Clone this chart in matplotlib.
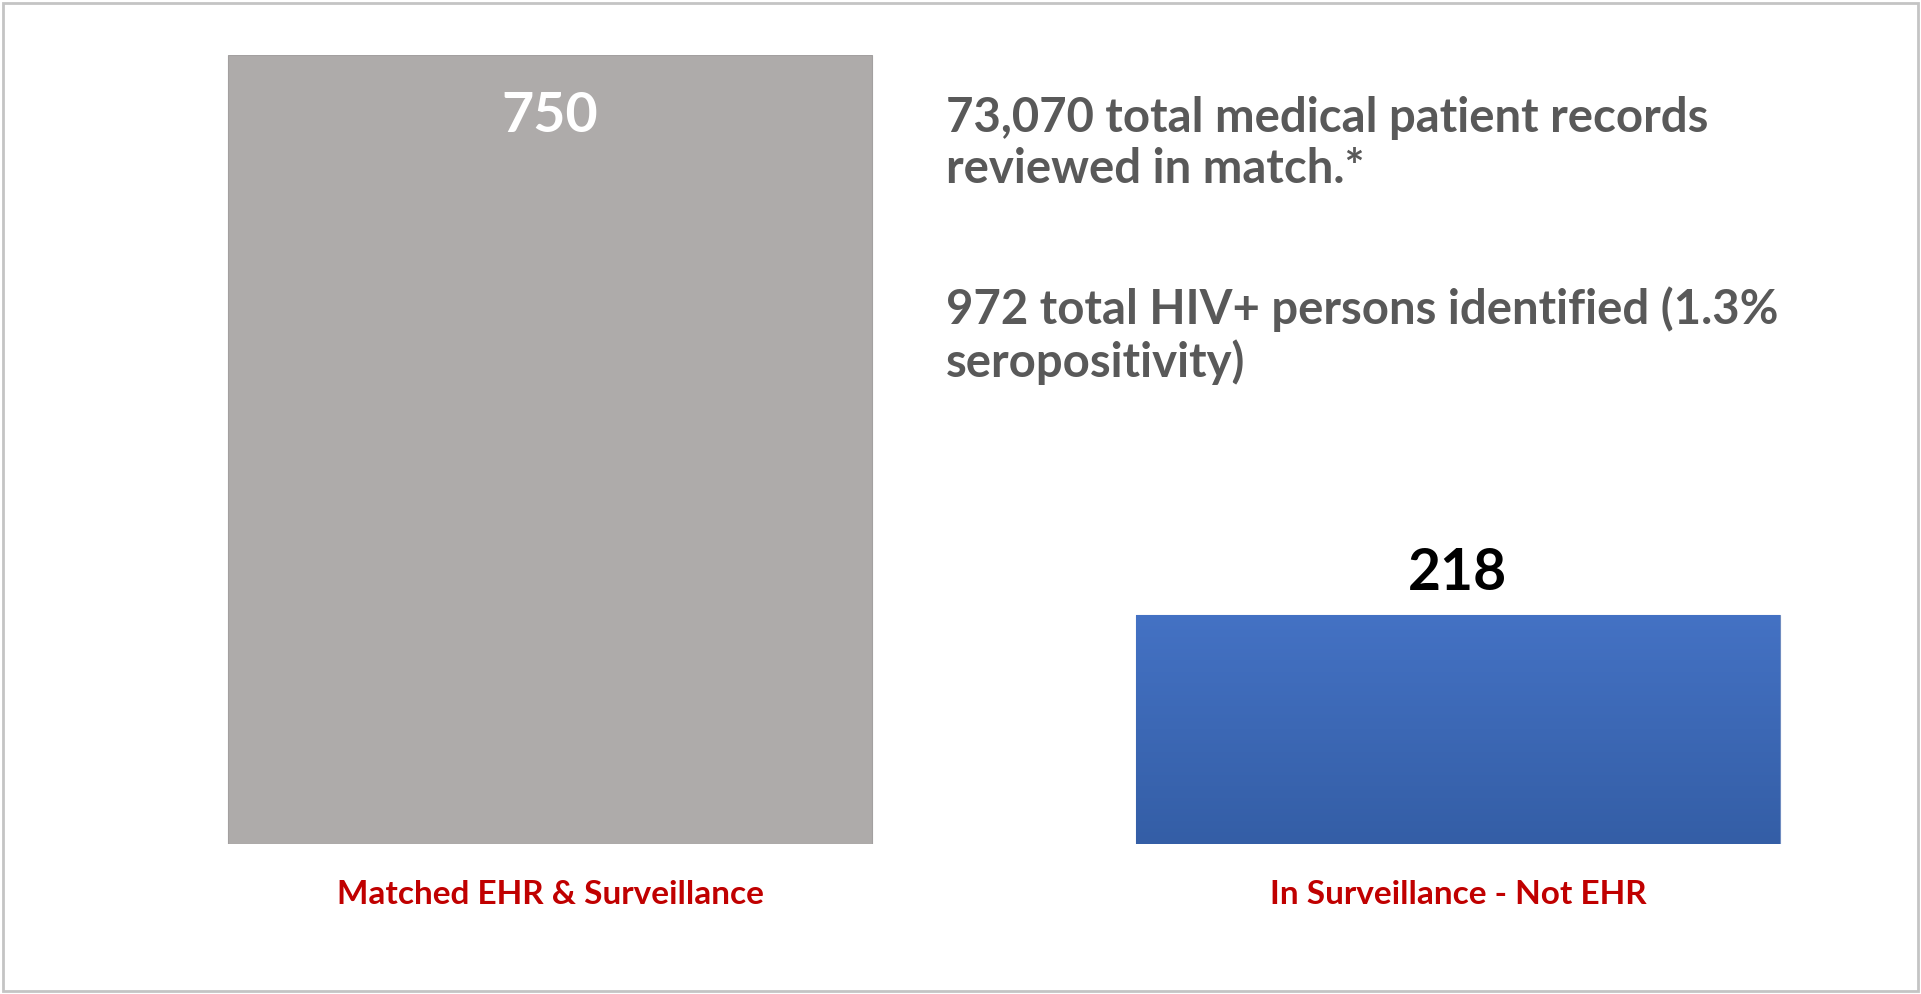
import numpy as np
import matplotlib.pyplot as plt
from matplotlib.patches import Rectangle
from matplotlib.colors import LinearSegmentedColormap

# data
categories = ["Matched EHR & Surveillance", "In Surveillance - Not EHR"]
counts = [750, 218]
notes = [
    "73,070 total medical patient records\nreviewed in match.*",
    "972 total HIV+ persons identified (1.3%\nseropositivity)",
]

W, H, DPI = 1921, 995, 100

plt.rcParams["font.family"] = ["Lato", "DejaVu Sans"]

fig = plt.figure(figsize=(W / DPI, H / DPI), dpi=DPI)
fig.patch.set_facecolor("white")

# axes placed in pixel terms: x 96..1912, y 56..845 (from top)
ax = fig.add_axes([96 / W, 1 - 845 / H, 1816 / W, (845 - 56) / H])

x = np.arange(len(categories))
bars = ax.bar(x, counts, width=0.709, color=["#AEABAA", "#4472C4"],
              edgecolor=["#A3A0A0", "#6F8CC0"], linewidth=0.8, zorder=2)

# vertical gradient on the blue bar
blue = bars[1]
grad = LinearSegmentedColormap.from_list("g", ["#345EA6", "#4472C4"])
img = ax.imshow(np.linspace(0, 1, 256).reshape(-1, 1), cmap=grad, aspect="auto",
                origin="lower", zorder=3,
                extent=[blue.get_x(), blue.get_x() + blue.get_width(), 0, blue.get_height()])
img.set_clip_path(blue)
ax.set_xlim(-0.5, 1.5)
ax.set_ylim(0, max(counts))

# value labels
ax.text(x[0], counts[0] - 57, f"{counts[0]}", ha="center", va="center",
        color="white", fontsize=40, fontweight="bold", zorder=4)
ax.text(x[1], counts[1] + 40, f"{counts[1]}", ha="center", va="center",
        color="black", fontsize=41, fontweight="bold", zorder=4)

ax.set_xticks(x)
ax.set_xticklabels(categories, color="#C00000", fontsize=24, fontweight="bold")
ax.tick_params(axis="x", length=0, pad=25)
ax.set_yticks([])
for s in ax.spines.values():
    s.set_visible(False)

# annotation block
fig.text(946 / W, 1 - 96 / H, notes[0], ha="left", va="top", color="#595959",
         fontsize=34, fontweight="bold", linespacing=1.2)
fig.text(946 / W, 1 - 286 / H, notes[1], ha="left", va="top", color="#595959",
         fontsize=34, fontweight="bold", linespacing=1.2)

# outer frame
fig.add_artist(Rectangle((3 / W, 3 / H), 1915 / W, 988 / H, transform=fig.transFigure,
                         fill=False, edgecolor="#C4C4C4", linewidth=2))

fig.savefig("out.png", dpi=DPI)
